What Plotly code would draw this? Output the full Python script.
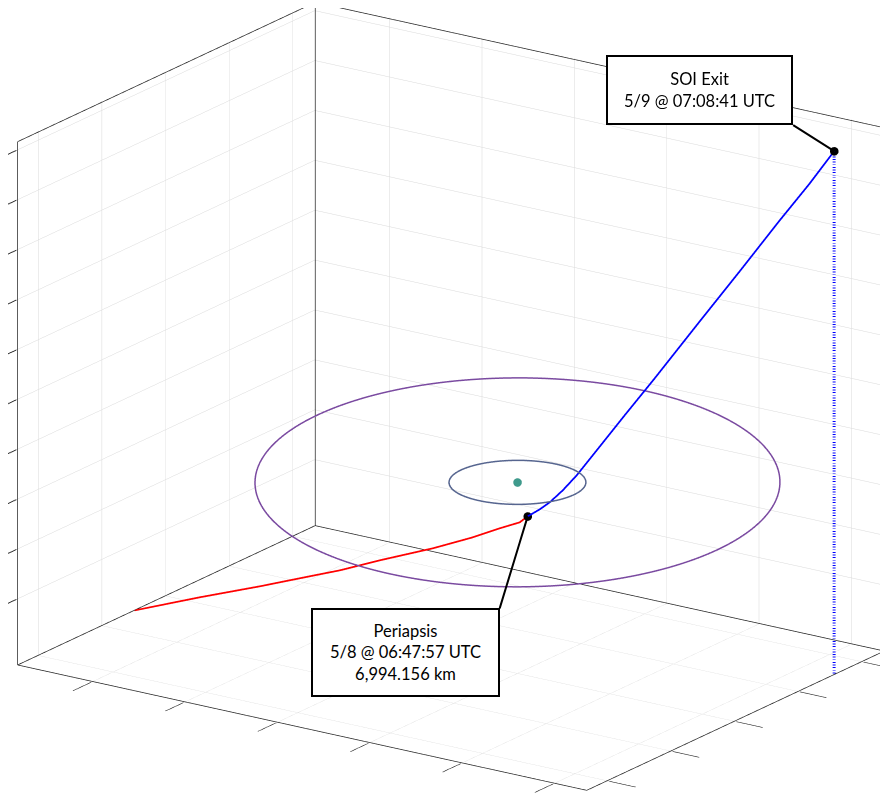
import numpy as np
import plotly.graph_objects as go

# ---------------- data (km) ----------------
x_range = [-381000, 237000]
y_range = [-234500, 234500]
z_range = [-66500, 459500]
x_ticks = [-300000, -200000, -100000, 0, 100000, 200000]
y_ticks = [-200000, -100000, 0, 100000, 200000]
z_ticks = [0, 50000, 100000, 150000, 200000, 250000, 300000, 350000, 400000, 450000]

# inbound leg (red) up to periapsis
in_x = [-381000, -330000, -283500, -252300, -221100, -189400, -147800, -115900, -94100, -78100, -70800]
in_y = [-48700, -19300, 7200, 24700, 42100, 58900, 81600, 98100, 108700, 116800, 118800]
in_z = [-66500, -51600, -39100, -29900, -20800, -9300, 4400, 17000, 27300, 34100, 41000]

# outbound leg (blue) from periapsis to SOI exit
out_x = [-70800, -60400, -51500, -39200, -25500, -5300, 23200, 53600, 99600, 140100, 180900, 211500, 236900]
out_y = [118800, 122500, 125300, 127900, 129900, 132000, 134400, 137400, 141300, 145200, 148700, 151400, 153800]
out_z = [41000, 49000, 57000, 70700, 87900, 116400, 156500, 198800, 264000, 321200, 379400, 421800, 459300]

center_body = [0, 0, 125000]

# reference circles: radius (km), inclination (deg), node (deg)
orbit_radius = [61000, 234000]
orbit_incl = [0.0, 5.0]
orbit_node = [0.0, 34.45]
orbit_color = ["#56658f", "#7a4aa0"]

peri_label = "Periapsis<br>5/8 @ 06:47:57 UTC<br>6,994.156 km"
exit_label = "SOI Exit<br>5/9 @ 07:08:41 UTC"

# ---------------- figure ----------------
fig = go.Figure()

# box edges (all except the three meeting at the corner nearest the viewer),
# pulled a hair inside the axis limits so they are not clipped
f = 0.0015
xmn = x_range[0] + f * (x_range[1] - x_range[0]); xmx = x_range[1] - f * (x_range[1] - x_range[0])
ymn = y_range[0] + f * (y_range[1] - y_range[0]); ymx = y_range[1] - f * (y_range[1] - y_range[0])
zmn = z_range[0] + f * (z_range[1] - z_range[0]); zmx = z_range[1] - f * (z_range[1] - z_range[0])
edges = [
    ((xmn, ymn, zmn), (xmx, ymn, zmn)),
    ((xmx, ymn, zmn), (xmx, ymx, zmn)),
    ((xmx, ymx, zmn), (xmn, ymx, zmn)),
    ((xmn, ymx, zmn), (xmn, ymn, zmn)),
    ((xmn, ymn, zmn), (xmn, ymn, zmx)),
    ((xmx, ymx, zmn), (xmx, ymx, zmx)),
    ((xmn, ymx, zmn), (xmn, ymx, zmx)),
    ((xmn, ymn, zmx), (xmn, ymx, zmx)),
    ((xmn, ymx, zmx), (xmx, ymx, zmx)),
]
ex, ey, ez = [], [], []
for p, q in edges:
    ex += [p[0], q[0], None]
    ey += [p[1], q[1], None]
    ez += [p[2], q[2], None]
fig.add_trace(go.Scatter3d(x=ex, y=ey, z=ez, mode="lines",
                           line=dict(color="#262626", width=1.5), hoverinfo="skip"))

for r, inc, node, col in zip(orbit_radius, orbit_incl, orbit_node, orbit_color):
    t = np.linspace(0, 2 * np.pi, 361)
    i = np.radians(inc)
    O = np.radians(node)
    cx = r * (np.cos(O) * np.cos(t) - np.sin(O) * np.sin(t) * np.cos(i))
    cy = r * (np.sin(O) * np.cos(t) + np.cos(O) * np.sin(t) * np.cos(i))
    cz = r * np.sin(t) * np.sin(i)
    fig.add_trace(go.Scatter3d(x=cx + center_body[0], y=cy + center_body[1], z=cz + center_body[2],
                               mode="lines", line=dict(color=col, width=3), hoverinfo="skip"))

fig.add_trace(go.Scatter3d(x=[center_body[0]], y=[center_body[1]], z=[center_body[2]], mode="markers",
                           marker=dict(size=5, color="#3f9a8c", line=dict(width=0)), hoverinfo="skip"))

fig.add_trace(go.Scatter3d(x=in_x, y=in_y, z=in_z, mode="lines",
                           line=dict(color="#ff0000", width=3.5), hoverinfo="skip"))
fig.add_trace(go.Scatter3d(x=out_x, y=out_y, z=out_z, mode="lines",
                           line=dict(color="#0000ff", width=3.5), hoverinfo="skip"))

# drop line from SOI exit to the floor
fig.add_trace(go.Scatter3d(x=[out_x[-1], out_x[-1]], y=[out_y[-1], out_y[-1]], z=[out_z[-1], zmn],
                           mode="lines", line=dict(color="#0000ff", width=6, dash="dot"), hoverinfo="skip"))

# event markers
fig.add_trace(go.Scatter3d(x=[in_x[-1], out_x[-1]], y=[in_y[-1], out_y[-1]], z=[in_z[-1], out_z[-1]],
                           mode="markers", marker=dict(size=5, color="black"), hoverinfo="skip"))

ax_common = dict(showticklabels=False, ticks="outside", ticklen=32, tickwidth=2, tickcolor="#262626",
                 showgrid=True, gridcolor="#d9d9d9", gridwidth=1, showline=False,
                 zeroline=False, showbackground=False, showspikes=False,
                 title=dict(text=""))

k = 1.396
e = np.array([0.5357, -0.7809, 0.3212])
d = 3.0
c = np.array([0.0061, -0.0043, -0.0206])
eye = c + d * e
fig.update_layout(
    width=888, height=794, margin=dict(l=0, r=0, t=0, b=0),
    paper_bgcolor="white", showlegend=False,
    font=dict(family="Lato, Open Sans, sans-serif", size=16.5, color="black"),
    scene=dict(
        domain=dict(x=[0, 1], y=[0, 1]),
        xaxis=dict(range=x_range, tickvals=x_ticks, **ax_common),
        yaxis=dict(range=y_range, tickvals=y_ticks, **ax_common),
        zaxis=dict(range=z_range, tickvals=z_ticks, **ax_common),
        aspectmode="manual", aspectratio=dict(x=1.249 * k, y=0.952 * k, z=1.0 * k),
        camera=dict(eye=dict(x=eye[0], y=eye[1], z=eye[2]), up=dict(x=0, y=0, z=1),
                    center=dict(x=c[0], y=c[1], z=c[2]), projection=dict(type="orthographic")),
        annotations=[
            dict(x=in_x[-1], y=in_y[-1], z=in_z[-1], text=peri_label, showarrow=True, arrowhead=0,
                 arrowwidth=2, arrowcolor="black", ax=-28, ay=92, xanchor="right", yanchor="top",
                 bgcolor="white", bordercolor="black", borderwidth=2, width=183, height=83,
                 font=dict(family="Lato, Open Sans, sans-serif", size=16.5, color="black")),
            dict(x=out_x[-1], y=out_y[-1], z=out_z[-1], text=exit_label, showarrow=True, arrowhead=0,
                 arrowwidth=2, arrowcolor="black", ax=-41, ay=-26, xanchor="right", yanchor="bottom",
                 bgcolor="white", bordercolor="black", borderwidth=2, width=181, height=64,
                 font=dict(family="Lato, Open Sans, sans-serif", size=16.5, color="black")),
        ],
    ),
)

fig.write_html("out.html")
